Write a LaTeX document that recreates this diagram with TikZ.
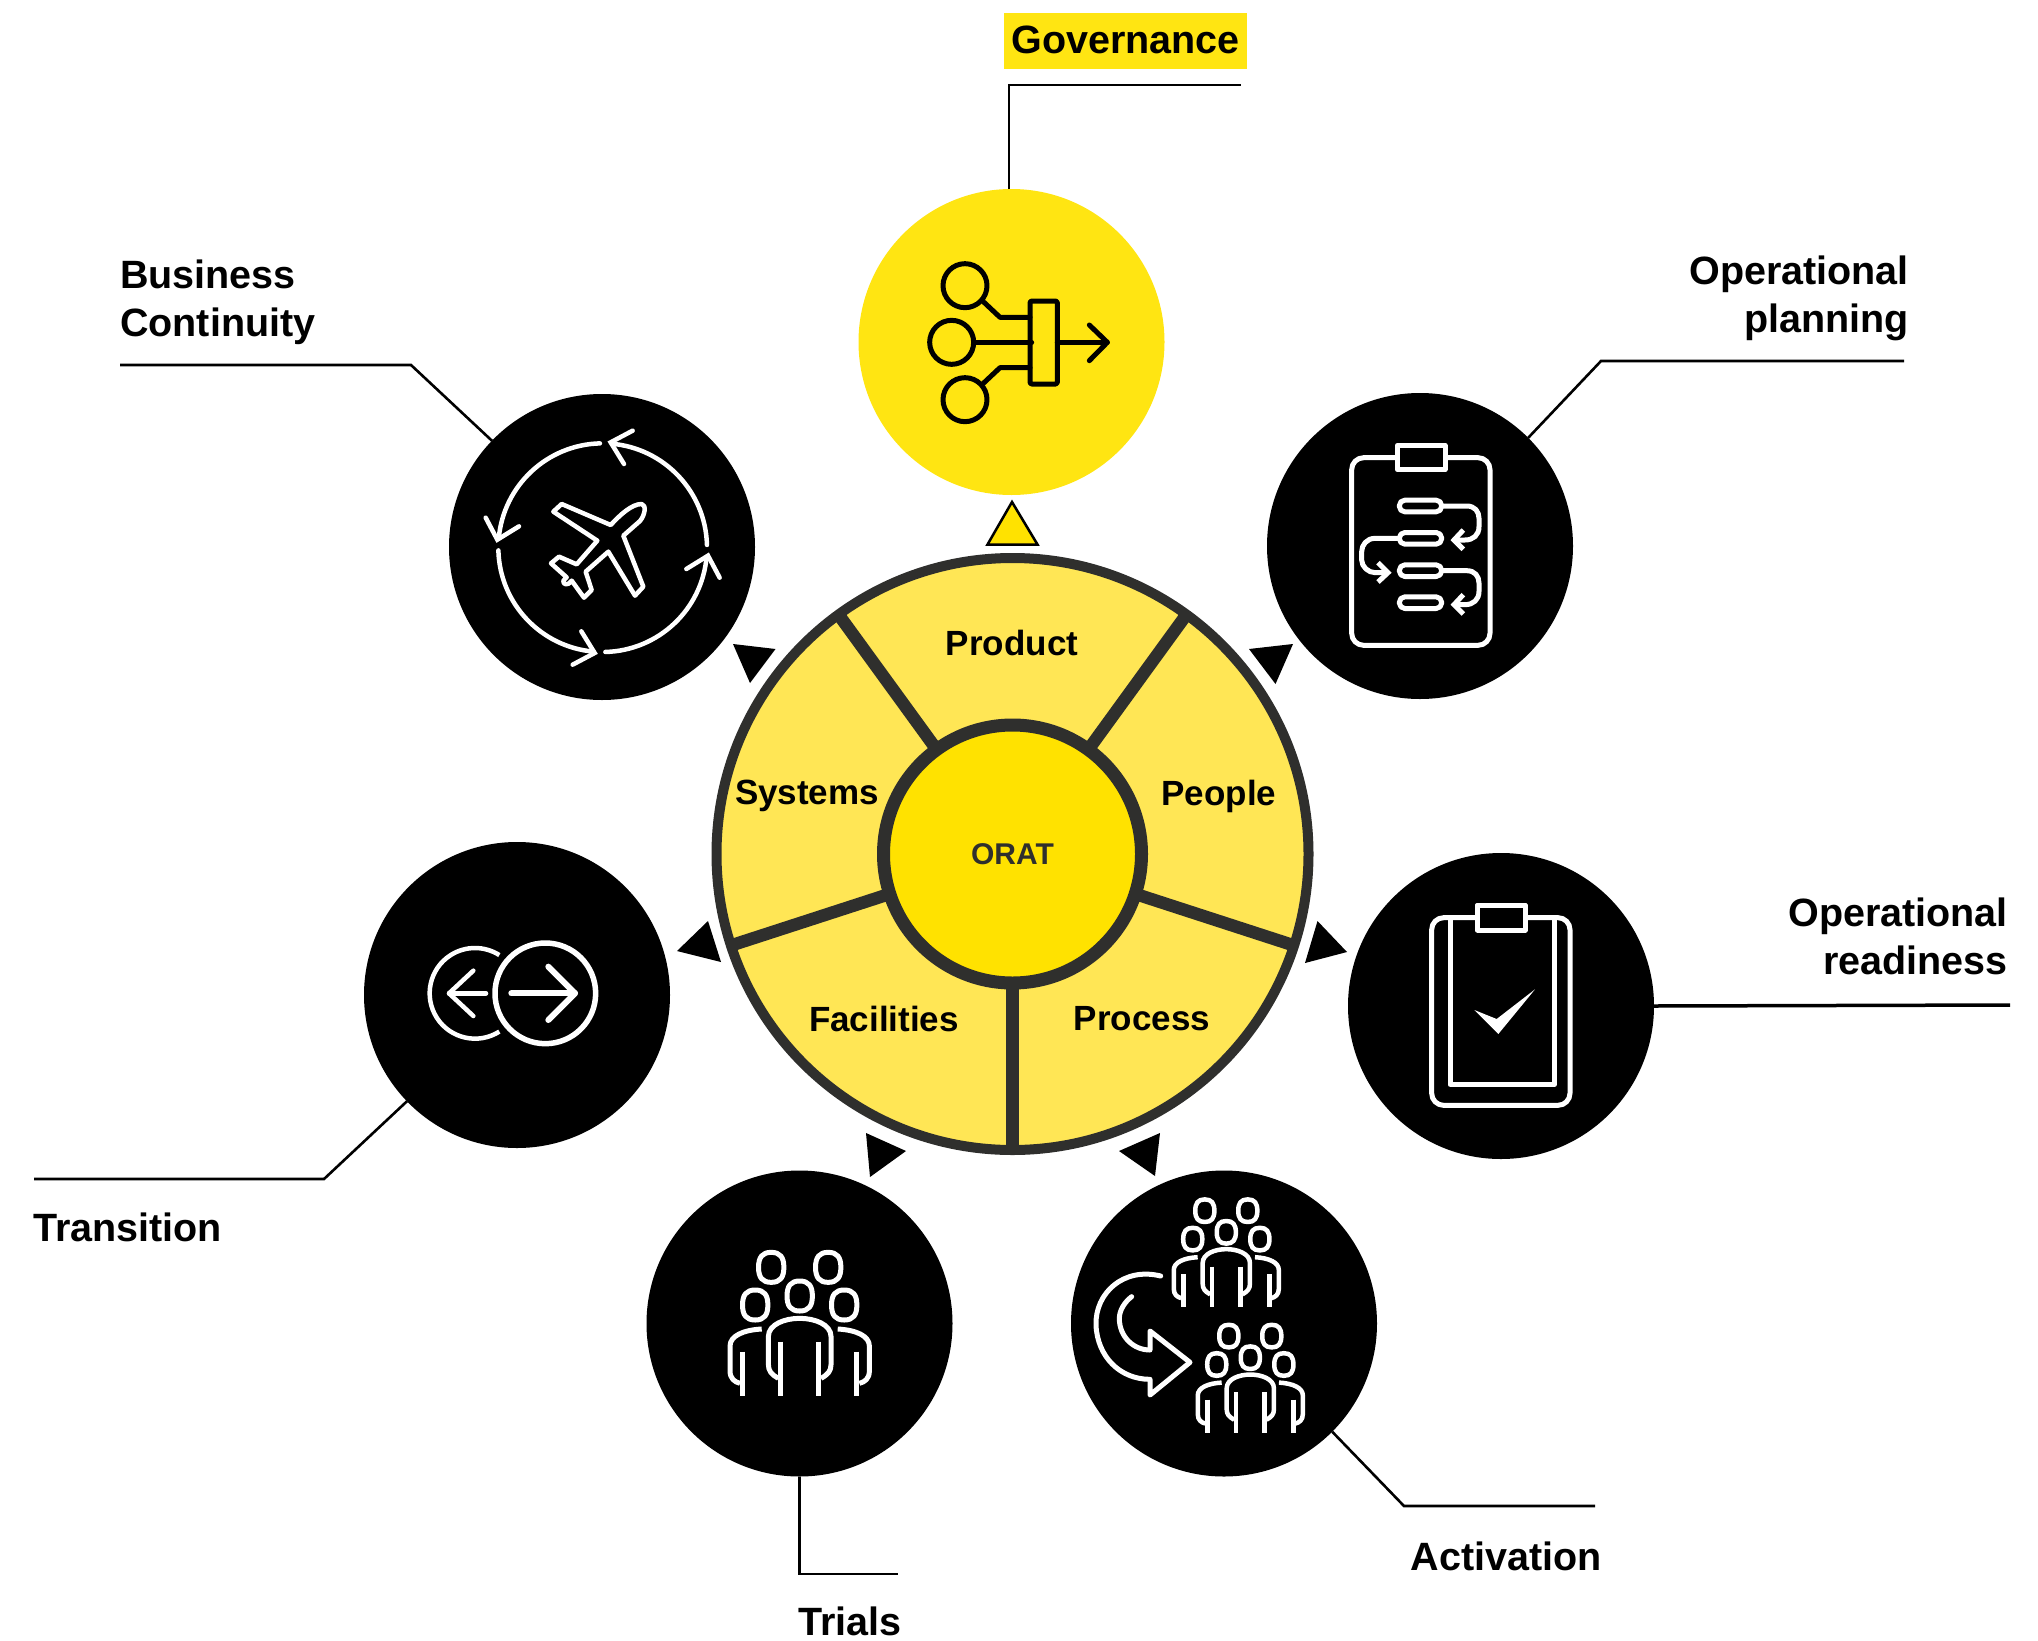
\documentclass[tikz,border=0pt]{standalone}
\usepackage{fontspec}
\setmainfont{Liberation Sans}
\definecolor{coreyellow}{HTML}{FFE200}
\definecolor{wheelyellow}{HTML}{FFE655}
\definecolor{govyellow}{HTML}{FFE512}
\definecolor{wheelline}{HTML}{2F2F2D}
\newcommand{\labelfont}[1]{\bfseries\fontsize{#1}{48}\selectfont}
\tikzset{
  iconline/.style={draw=white,line width=5pt,line join=round},
  pics/crowd/.style={code={
    \foreach \hx/\hy in {-85.5/-86,85.5/-86,0/0,-133.5/27,133.5/27}
      \draw[iconline,shift={(\hx,\hy)}] (0,-45) .. controls (27,-45) and (38,-30) .. (38,0) .. controls (38,30) and (27,45) .. (0,45)
        .. controls (-27,45) and (-38,30) .. (-38,0) .. controls (-38,-30) and (-27,-45) .. (0,-45) -- cycle;
    \draw[iconline] (-64,247) .. controls (-85,235) and (-94,225) .. (-94,205) -- (-94,122) .. controls (-94,85) and (-45,67) .. (0,67)
      .. controls (45,67) and (94,85) .. (94,122) -- (94,205) .. controls (94,225) and (85,235) .. (64,247);
    \draw[iconline] (-114,99) .. controls (-170,102) and (-209,120) .. (-209,150) -- (-209,225) .. controls (-209,248) and (-195,258) .. (-179,262);
    \draw[iconline] (114,99) .. controls (170,102) and (209,120) .. (209,150) -- (209,225) .. controls (209,248) and (195,258) .. (179,262);
    \foreach \bx/\by in {-171/167,-57/137,57/137,171/167}
      \draw[iconline] (\bx,\by) -- (\bx,299);
  }},
  pics/clipboard/.style={code={
    \draw[iconline,rounded corners=12pt] (275,203) rectangle (690,766);
    \draw[iconline,fill=black] (412,166) rectangle (555,239);
  }}
}
\begin{document}
\begin{tikzpicture}
[x=1pt,y=-1pt,
leader/.style={draw=black,line width=2.6pt},
bignode/.style={shape=circle,fill=black,minimum size=306pt,inner sep=0pt,outer sep=0pt},
seglabel/.style={font=\labelfont{35},text=black,inner sep=0pt},
sidelabel/.style={font=\labelfont{39.5},text=black,inner sep=0pt},
spoke/.style={draw=wheelline,line width=12.5pt},
pointer/.style={fill=black},
cropped/.style={shift={#1},scale=0.33333}
]
\useasboundingbox (0,0) rectangle (2038,1641);

% wheel
\node[shape=circle,draw=wheelline,fill=wheelyellow,line width=10pt,minimum size=592pt,inner sep=0pt,outer sep=0pt] (wheel) at (1012.5,854) {};
\node[shape=circle,draw=wheelline,fill=coreyellow,line width=13pt,minimum size=258pt,inner sep=0pt,outer sep=0pt,font=\labelfont{30},text=wheelline] (core) at (1012.5,854) {\raisebox{-4pt}{ORAT}};
\foreach \ang in {54,126,198,270,342}
  \draw[spoke] (wheel.\ang) -- (core.\ang);
\node[seglabel] (product) at (1012,643) {Product};
\node[seglabel] (systems) at (807,796) {Systems};
\node[seglabel] (people) at (1219,796) {People};
\node[seglabel] (facilities) at (884,1019) {Facilities};
\node[seglabel] (process) at (1142,1019) {Process};

% outer circles
\node[bignode,fill=govyellow] (gov) at (1011.5,342) {};
\node[bignode] (planning) at (1420,546) {};
\node[bignode] (business) at (602,547) {};
\node[bignode] (readiness) at (1501,1006) {};
\node[bignode] (transition) at (517,995) {};
\node[bignode] (trials) at (799.5,1323.5) {};
\node[bignode] (activation) at (1224,1323.5) {};

% pointers
\draw[fill=coreyellow,draw=black,line width=2.5pt] (1012,502) -- (987.5,544.5) -- (1037.5,544.5) -- cycle;
\foreach \ax/\ay/\bx/\by/\cx/\cy in {733/644/775.5/649/750/683,
    1249/649/1293/644/1275.5/684,
    1317.5/921/1347/952/1305/963,
    708/921/677/951/721/962,
    866/1133/906/1151/870/1177,
    1160/1133/1119/1151/1155/1176}
  \fill[pointer] (\ax,\ay) -- (\bx,\by) -- (\cx,\cy) -- cycle;

% labels
\node[sidelabel,fill=govyellow,minimum width=243pt,minimum height=56pt] (govlabel) at (1125.5,41) {\raisebox{2pt}{Governance}};
\node[sidelabel,anchor=west,align=left] (businesslabel) at (120,302) {Business\\Continuity};
\node[sidelabel,anchor=east,align=right] (planninglabel) at (1909,298) {Operational\\planning};
\node[sidelabel,anchor=east,align=right] (readinesslabel) at (2008,936.5) {Operational\\readiness};
\node[sidelabel,anchor=west] (transitionlabel) at (33,1227.5) {Transition};
\node[sidelabel] (trialslabel) at (850,1621.5) {Trials};
\node[sidelabel] (activationlabel) at (1506,1556) {Activation};

% leaders
\coordinate (govend) at (1241,85);
\coordinate (planbend) at (1601,361);
\coordinate (planend) at (1904,361);
\coordinate (busbend) at (411,365);
\coordinate (busend) at (120,365);
\coordinate (readyend) at (2010,1005);
\coordinate (transbend) at (324,1179);
\coordinate (transend) at (34,1179);
\coordinate (trialend) at (898,1574);
\coordinate (actbend) at (1404,1506);
\coordinate (actend) at (1595,1506);
\draw[leader] (gov.91) |- (govend);
\draw[leader] (planning.45) -- (planbend) -- (planend);
\draw[leader] (business.136) -- (busbend) -- (busend);
\draw[leader,line width=3.5pt] (readiness.0) -- (readyend);
\draw[leader] (transition.224) -- (transbend) -- (transend);
\draw[leader] (trials.-90.6) |- (trialend);
\draw[leader] (activation.-45) -- (actbend) -- (actend);

% governance icon
\begin{scope}[cropped={(850,180)},line width=5pt,line join=round,line cap=round]
  \draw (345,317) circle (66);
  \draw (305,487) circle (66);
  \draw (345,659) circle (66);
  \draw[rounded corners=1.5pt] (540,363) rectangle (622,612);
  \draw (400,365) -- (450,412) -- (540,412);
  \draw (375,487) -- (545,487);
  \draw (400,610) -- (450,563) -- (540,563);
  \draw (622,487) -- (772,487);
  \draw (718,435) -- (772,487) -- (718,542);
\end{scope}

% planning icon
\pic[scale=0.33333] at (1260,390) {clipboard};
\begin{scope}[cropped={(1260,390)}]
  \foreach \y in {348,445,542,638}
    \draw[iconline,rounded corners=5.5pt] (418,\y-17.5) rectangle (545,\y+17.5);
  \foreach \dy in {0,194}{
    \begin{scope}[shift={(0,\dy)}]
      \draw[iconline] (548,348) -- (620,348) .. controls (645,348) and (657,365) .. (657,385) -- (657,410) .. controls (657,435) and (640,450) .. (615,450) -- (584,450);
      \draw[iconline,line join=miter] (610,420) -- (582,450) -- (610,478);
    \end{scope}
  }
  \draw[iconline] (415,445) -- (345,445) .. controls (320,445) and (305,465) .. (305,485) -- (305,510) .. controls (305,530) and (325,548) .. (345,548) -- (382,548);
  \draw[iconline,line join=miter] (354,518) -- (384,548) -- (354,576);
\end{scope}

% business icon
\begin{scope}[cropped={(440,390)},line cap=round]
  \foreach \k in {0,1,2,3}{
    \begin{scope}[shift={(488,473)},rotate=90*\k]
      \draw[iconline,line width=4.5pt] (-1.5:313) arc [start angle=-1.5,end angle=-85,radius=313];
      \draw[iconline,line width=4.5pt,line join=miter] (90,-351) -- (24,-316) -- (64,-251);
    \end{scope}
  }
  \draw[iconline,line width=4.5pt] (365,342) -- (512,405) .. controls (540,375) and (575,342) .. (605,342)
    .. controls (620,345) and (615,375) .. (600,393) -- (550,437) -- (610,590) -- (585,617) -- (505,485) -- (437,545)
    -- (455,600) -- (432,623) -- (395,572) .. controls (385,588) and (368,585) .. (370,572) -- (380,562) -- (333,520) -- (357,500)
    -- (410,523) -- (472,452) -- (340,365) -- cycle;
\end{scope}

% readiness icon
\pic[scale=0.33333] at (1340,850) {clipboard};
\begin{scope}[cropped={(1340,850)}]
  \draw[iconline] (330,203) -- (330,703) -- (643,703) -- (643,203);
  \draw[iconline,fill=black] (412,167) rectangle (555,240);
  \fill[white] (403,480) -- (470,507) -- (585,418) -- (475,552) -- cycle;
\end{scope}

% transition icon
\begin{scope}[cropped={(360,840)},line cap=round]
  \draw[iconline,line width=4.5pt,line cap=butt] (345,460) ++(57.5:136) arc [start angle=57.5,end angle=302.5,radius=136];
  \draw[iconline,line width=4.5pt] (378,460) -- (267,460);
  \draw[iconline,line width=4.5pt] (340,392) -- (267,460) -- (340,528);
  \draw[iconline,line width=5.5pt] (556,460) circle (151);
  \draw[iconline,line width=6pt] (454,460) -- (645,460);
  \draw[iconline,line width=6pt] (565,380) -- (645,460) -- (565,540);
\end{scope}

% trials icon
\pic[scale=0.33333] at (799.7,1296) {crowd};

% activation icon
\pic[scale=0.2513,iconline/.append style={line width=4.5pt}] at (1226.3,1232.3) {crowd};
\pic[scale=0.2513,iconline/.append style={line width=4.5pt}] at (1250.3,1357.7) {crowd};
\begin{scope}[cropped={(1070,1170)}]
  \draw[iconline,line cap=round] (272,318) .. controls (160,290) and (75,370) .. (78,465) .. controls (82,560) and (150,628) .. (240,628)
    -- (240,675) -- (360,577) -- (240,483) -- (240,540) .. controls (190,540) and (148,500) .. (148,445) .. controls (148,420) and (165,395) .. (185,380);
\end{scope}
\end{tikzpicture}
\end{document}
